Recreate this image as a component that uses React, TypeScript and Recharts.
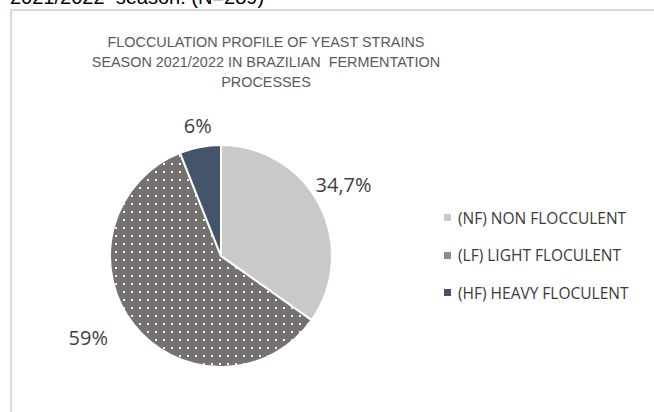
import { PieChart, Pie, Cell, Legend } from "recharts"

const categories = ["(NF) NON FLOCCULENT", "(LF) LIGHT FLOCULENT", "(HF) HEAVY FLOCULENT"]
const shares = [34.7, 59, 6]
const shareLabels = ["34,7%", "59%", "6%"]
const titleLines = ["FLOCCULATION PROFILE OF YEAST STRAINS", "SEASON 2021/2022 IN BRAZILIAN  FERMENTATION", "PROCESSES"]
const captionAbove = "2021/2022  season. (N=289)"

const colors = ["#c9c9c9", "url(#dots)", "#44546a"]
const swatch = ["#c9c9c9", "#8f8b8b", "#44546a"]

// excel put the outside labels at uneven spots, nudge them per slice
const labelNudge = [
    { r: 142, da: 3 },
    { r: 156, da: -6.5 },
    { r: 133, da: -0.8 },
]

const data = categories.map((name, i) => ({ name, value: shares[i], label: shareLabels[i] }))

const RADIAN = Math.PI / 180

function renderLabel(props: any) {
    const { cx, cy, midAngle, index } = props
    const n = labelNudge[index]
    const a = (midAngle + n.da) * RADIAN
    const x = cx + n.r * Math.cos(a)
    const y = cy - n.r * Math.sin(a)
    return (
        <text
            x={x}
            y={y}
            textAnchor="middle"
            dominantBaseline="central"
            fill="#404040"
            fontSize={20}
            fontFamily="'Open Sans', sans-serif"
        >
            {shareLabels[index]}
        </text>
    )
}

function renderLegend() {
    return (
        <div style={{ fontFamily: "'Open Sans', sans-serif", fontSize: 15.5, color: "#3a3a3a" }}>
            {categories.map((c, i) => (
                <div key={c} style={{ display: "flex", alignItems: "center", height: 37.5 }}>
                    <span style={{ width: 7, height: 7, background: swatch[i], marginRight: 7, display: "inline-block" }} />
                    <span>{c}</span>
                </div>
            ))}
        </div>
    )
}

export default function App() {
    return (
        <div style={{ position: "absolute", left: 0, top: 0, width: 654, height: 412, overflow: "hidden", background: "#fff" }}>
            <svg width={0} height={0} style={{ position: "absolute" }}>
                <defs>
                    <pattern id="dots" width={8} height={8} patternUnits="userSpaceOnUse">
                        <rect width={8} height={8} fill="#767171" />
                        <rect x={3} y={3} width={2} height={2} fill="#ffffff" opacity={0.9} />
                    </pattern>
                </defs>
            </svg>
            <div
                style={{
                    position: "absolute",
                    left: 10,
                    top: -14,
                    fontFamily: "'Liberation Sans', Arial, sans-serif",
                    fontSize: 20,
                    lineHeight: "23px",
                    color: "#000",
                    whiteSpace: "pre",
                }}
            >
                {captionAbove}
            </div>
            <div
                style={{
                    position: "absolute",
                    left: 10,
                    top: 9,
                    width: 700,
                    height: 500,
                    border: "2px solid #d9d9d9",
                    boxSizing: "border-box",
                }}
            />
            <div
                style={{
                    position: "absolute",
                    left: 66,
                    top: 32,
                    width: 400,
                    textAlign: "center",
                    fontFamily: "'Liberation Sans', Arial, sans-serif",
                    fontSize: 15,
                    lineHeight: "20px",
                    color: "#595959",
                    whiteSpace: "pre",
                }}
            >
                {titleLines.map((t) => (
                    <div key={t} style={{ transform: "scaleX(0.96)" }}>
                        {t}
                    </div>
                ))}
            </div>
            <div style={{ position: "absolute", left: 0, top: 0 }}>
                <PieChart width={654} height={412} margin={{ top: 0, right: 0, bottom: 0, left: 0 }}>
                    <Pie
                        data={data}
                        dataKey="value"
                        nameKey="name"
                        cx={221}
                        cy={256}
                        outerRadius={111}
                        startAngle={90}
                        endAngle={-270}
                        stroke="#ffffff"
                        strokeWidth={2}
                        label={renderLabel}
                        labelLine={false}
                        isAnimationActive={false}
                    >
                        {data.map((d, i) => (
                            <Cell key={d.name} fill={colors[i]} />
                        ))}
                    </Pie>
                    <Legend
                        content={renderLegend}
                        wrapperStyle={{ position: "absolute", left: 444, top: 199, width: 210 }}
                    />
                </PieChart>
            </div>
        </div>
    )
}
